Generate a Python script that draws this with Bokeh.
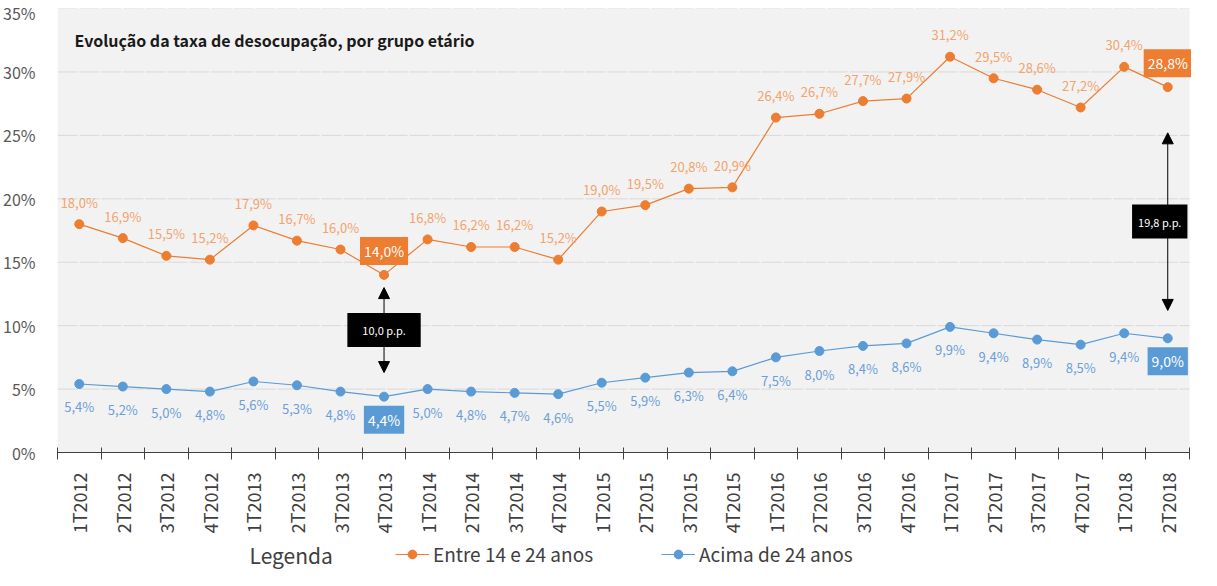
from math import pi
from bokeh.plotting import figure
from bokeh.layouts import column
from bokeh.models import (Range1d, FixedTicker, Label, Arrow, NormalHead,
                          Legend, LegendItem)
from bokeh.embed import file_html
from bokeh.resources import INLINE

# ---------------- data ----------------
categories = ["1T2012", "2T2012", "3T2012", "4T2012",
              "1T2013", "2T2013", "3T2013", "4T2013",
              "1T2014", "2T2014", "3T2014", "4T2014",
              "1T2015", "2T2015", "3T2015", "4T2015",
              "1T2016", "2T2016", "3T2016", "4T2016",
              "1T2017", "2T2017", "3T2017", "4T2017",
              "1T2018", "2T2018"]
jovens = [18.0, 16.9, 15.5, 15.2, 17.9, 16.7, 16.0, 14.0, 16.8, 16.2, 16.2, 15.2,
          19.0, 19.5, 20.8, 20.9, 26.4, 26.7, 27.7, 27.9, 31.2, 29.5, 28.6, 27.2,
          30.4, 28.8]
adultos = [5.4, 5.2, 5.0, 4.8, 5.6, 5.3, 4.8, 4.4, 5.0, 4.8, 4.7, 4.6,
           5.5, 5.9, 6.3, 6.4, 7.5, 8.0, 8.4, 8.6, 9.9, 9.4, 8.9, 8.5,
           9.4, 9.0]
y_ticks = [0, 5, 10, 15, 20, 25, 30, 35]
series_names = ["Entre 14 e 24 anos", "Acima de 24 anos"]
title_text = "Evolução da taxa de desocupação, por grupo etário"
legend_title = "Legenda"
highlight_idx = [7, 25]
gap_labels = ["10,0 p.p.", "19,8 p.p."]

# ---------------- style ----------------
FONT = "Noto Sans CJK JP"
ORANGE = "#ED7D31"
BLUE = "#5B9BD5"
ORANGE_TXT = "#F3A46E"
BLUE_TXT = "#6C9FD8"
PX_PER_CAT = 43.9
EXTRA_RIGHT = 2 / PX_PER_CAT  # white strip right of the grey plot area
W = 1191

n = len(categories)
xs = [i + 0.5 for i in range(n)]
y_max = y_ticks[-1]


def fmt(v):
    return f"{v:.1f}".replace(".", ",") + "%"


p = figure(width=W, height=540, x_range=Range1d(0, n + EXTRA_RIGHT),
           y_range=Range1d(0, y_max),
           output_backend="svg", toolbar_location=None,
           background_fill_color="white", border_fill_color="white",
           min_border_left=48, min_border_right=0, min_border_top=8,
           min_border_bottom=88)
p.outline_line_color = None
p.xgrid.visible = False
p.ygrid.visible = False

# grey plot area + dashed grid limited to the categories
p.quad(left=0, right=n, bottom=0, top=y_max, fill_color="#F2F2F2", line_color=None)
p.segment(x0=[0] * len(y_ticks), x1=[n] * len(y_ticks), y0=y_ticks, y1=y_ticks,
          line_color="#D9D9D9", line_width=1, line_dash="20 2")

p.yaxis.ticker = FixedTicker(ticks=y_ticks)
p.yaxis.major_label_overrides = {t: f"{t}%" for t in y_ticks}
p.yaxis.axis_line_color = None
p.yaxis.major_tick_line_color = None
p.yaxis.minor_tick_line_color = None
p.yaxis.major_label_standoff = 16
p.yaxis.major_label_text_font = FONT
p.yaxis.major_label_text_font_size = "16px"
p.yaxis.major_label_text_color = "#595959"

p.xaxis.ticker = FixedTicker(ticks=xs, minor_ticks=list(range(n + 1)))
p.xaxis.bounds = (0, n)
p.xaxis.major_label_overrides = {x: c for x, c in zip(xs, categories)}
p.xaxis.major_tick_line_color = None
p.xaxis.major_tick_in = 0
p.xaxis.major_tick_out = 0
p.xaxis.minor_tick_line_color = "#404040"
p.xaxis.minor_tick_in = 5
p.xaxis.minor_tick_out = 7
p.xaxis.axis_line_color = "#404040"
p.xaxis.major_label_orientation = pi / 2
p.xaxis.major_label_standoff = 13
p.xaxis.major_label_text_font = FONT
p.xaxis.major_label_text_font_size = "18px"
p.xaxis.major_label_text_color = "#404040"

# ---------------- series ----------------
p.line(xs, jovens, line_color=ORANGE, line_width=1.2)
p.scatter(xs, jovens, size=9, fill_color=ORANGE, line_color=ORANGE)
p.line(xs, adultos, line_color=BLUE, line_width=1.2)
p.scatter(xs, adultos, size=9, fill_color=BLUE, line_color=BLUE)

# data labels (regular)
keep = [i for i in range(n) if i not in highlight_idx]
p.text([xs[i] for i in keep], [jovens[i] for i in keep],
       text=[fmt(jovens[i]) for i in keep], y_offset=-22,
       text_align="center", text_baseline="middle", text_font_size="13px",
       text_color=ORANGE_TXT, text_font={"value": FONT})
p.text([xs[i] for i in keep], [adultos[i] for i in keep],
       text=[fmt(adultos[i]) for i in keep], y_offset=23,
       text_align="center", text_baseline="middle", text_font_size="13px",
       text_color=BLUE_TXT, text_font={"value": FONT})

# boxed highlighted labels
for i in highlight_idx:
    p.add_layout(Label(x=xs[i], y=jovens[i], y_offset=24, text=fmt(jovens[i]),
                       text_align="center", text_baseline="middle",
                       text_font=FONT, text_font_size="14px", text_color="white",
                       background_fill_color=ORANGE,
                       padding=dict(left=4, right=4, top=4, bottom=4)))
    p.add_layout(Label(x=xs[i], y=adultos[i], y_offset=-23, text=fmt(adultos[i]),
                       text_align="center", text_baseline="middle",
                       text_font=FONT, text_font_size="14px", text_color="white",
                       background_fill_color=BLUE,
                       padding=dict(left=4, right=4, top=4, bottom=4)))

# gap arrows
arrow_gaps = [(1.0, 1.9), (3.6, 2.2)]
box_pads = [15, 6]
box_shift = [0, -8]
for i, (gt, gb), txt, bp, bs in zip(highlight_idx, arrow_gaps, gap_labels, box_pads, box_shift):
    y_top = jovens[i] - gt
    y_bot = adultos[i] + gb
    p.add_layout(Arrow(x_start=xs[i], y_start=y_bot, x_end=xs[i], y_end=y_top,
                       line_color="black", line_width=1,
                       start=NormalHead(size=11, fill_color="black", line_color="black"),
                       end=NormalHead(size=11, fill_color="black", line_color="black")))
    p.add_layout(Label(x=xs[i], y=(y_top + y_bot) / 2, x_offset=bs, text=txt,
                       text_align="center", text_baseline="middle",
                       text_font=FONT, text_font_size="11px", text_color="white",
                       background_fill_color="black",
                       padding=dict(left=bp, right=bp, top=9, bottom=9)))

# title
p.add_layout(Label(x=17, y=413, x_units="screen", y_units="screen", text=title_text,
                   text_font=FONT, text_font_size="16px", text_font_style="bold",
                   text_color="#1a1a1a", text_baseline="middle"))

# ---------------- legend strip (frame is aligned with the chart's frame) ----------------
LH = 30
q = figure(width=W, height=LH, x_range=Range1d(0, n), y_range=Range1d(100, 101),
           output_backend="svg", toolbar_location=None,
           x_axis_location=None, y_axis_location=None,
           min_border_left=48, min_border_right=0, min_border_top=0, min_border_bottom=0,
           background_fill_color="white", border_fill_color="white")
q.outline_line_color = None
q.grid.visible = False
# series re-drawn here (outside the strip's visible range) only to feed the legend
l1 = q.line(xs, jovens, line_color=ORANGE, line_width=1.2)
m1 = q.scatter(xs, jovens, size=9, fill_color=ORANGE, line_color=ORANGE)
l2 = q.line(xs, adultos, line_color=BLUE, line_width=1.2)
m2 = q.scatter(xs, adultos, size=9, fill_color=BLUE, line_color=BLUE)
q.add_layout(Label(x=192, y=16, x_units="screen", y_units="screen", text=legend_title,
                   text_font=FONT, text_font_size="21px", text_color="#404040",
                   text_baseline="middle"))
legend = Legend(items=[LegendItem(label=series_names[0], renderers=[l1, m1]),
                       LegendItem(label=series_names[1], renderers=[l2, m2])],
                orientation="horizontal", location=(338, 3),
                padding=0, margin=0, spacing=68, glyph_width=34, glyph_height=22,
                label_standoff=4, label_height=22,
                background_fill_alpha=0, border_line_color=None,
                label_text_font=FONT, label_text_font_size="19px",
                label_text_color="#404040")
q.add_layout(legend)

open("out.html", "w").write(file_html(column(p, q, spacing=0), INLINE))
